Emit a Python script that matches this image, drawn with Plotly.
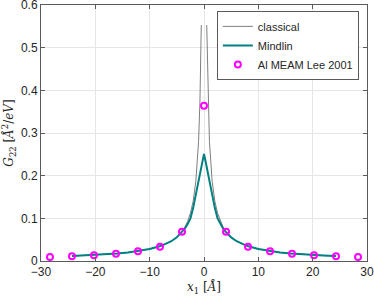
import plotly.graph_objects as go

# Classical Green's function (singular at 0)
x_cl = [-24.3, -22, -20, -18, -16, -14, -12, -10, -8, -7, -6, -5, -4, -3.5, -3, -2.5, -2, -1.5, -1, -0.75, -0.5,
        None,
        0.5, 0.75, 1, 1.5, 2, 2.5, 3, 3.5, 4, 5, 6, 7, 8, 10, 12, 14, 16, 18, 20, 22, 24.3]
g_cl = [0.0115, 0.0127, 0.0140, 0.0156, 0.0175, 0.0200, 0.0233, 0.0280, 0.0350, 0.0400, 0.0467, 0.0560, 0.0700,
        0.0800, 0.0933, 0.1120, 0.1400, 0.1870, 0.2800, 0.3730, 0.5530,
        None,
        0.5530, 0.3730, 0.2800, 0.1870, 0.1400, 0.1120, 0.0933, 0.0800, 0.0700, 0.0560, 0.0467, 0.0400, 0.0350,
        0.0280, 0.0233, 0.0200, 0.0175, 0.0156, 0.0140, 0.0127, 0.0115]

# Mindlin (gradient) Green's function
x_mi = [-24.3, -22, -20, -18, -16, -14, -12, -10, -8, -7, -6, -5, -4, -3.5, -3, -2.5, -2, -1.5, -1, -0.75, -0.5, -0.25,
        0,
        0.25, 0.5, 0.75, 1, 1.5, 2, 2.5, 3, 3.5, 4, 5, 6, 7, 8, 10, 12, 14, 16, 18, 20, 22, 24.3]
g_mi = [0.0115, 0.0127, 0.0140, 0.0156, 0.0175, 0.0200, 0.0233, 0.0280, 0.0350, 0.0399, 0.0464, 0.0554, 0.0681,
        0.0765, 0.0869, 0.1000, 0.1240, 0.1550, 0.1860, 0.2040, 0.2200, 0.2360,
        0.2510,
        0.2360, 0.2200, 0.2040, 0.1860, 0.1550, 0.1240, 0.1000, 0.0869, 0.0765, 0.0681, 0.0554, 0.0464, 0.0399,
        0.0350, 0.0280, 0.0233, 0.0200, 0.0175, 0.0156, 0.0140, 0.0127, 0.0115]

# Atomistic data (Al MEAM Lee 2001)
x_md = [-28.35, -24.3, -20.25, -16.2, -12.15, -8.1, -4.05, 0, 4.05, 8.1, 12.15, 16.2, 20.25, 24.3, 28.35]
g_md = [0.0094, 0.0110, 0.0135, 0.0168, 0.0227, 0.0335, 0.0686, 0.3640, 0.0686, 0.0335, 0.0227, 0.0168, 0.0135,
        0.0110, 0.0094]

x_ticks = [-30, -20, -10, 0, 10, 20, 30]
y_ticks = [0, 0.1, 0.2, 0.3, 0.4, 0.5, 0.6]
y_ticktext = ["0", "0.1", "0.2", "0.3", "0.4", "0.5", "0.6"]

fig = go.Figure()
fig.add_trace(go.Scatter(x=x_cl, y=g_cl, mode="lines", name="classical",
                         line=dict(color="#7f7f7f", width=1), connectgaps=False))
fig.add_trace(go.Scatter(x=x_mi, y=g_mi, mode="lines", name="Mindlin",
                         line=dict(color="#008080", width=2)))
fig.add_trace(go.Scatter(x=x_md, y=g_md, mode="markers", name="Al MEAM Lee 2001",
                         marker=dict(symbol="circle-open", color="#ff00ff", size=6,
                                     line=dict(width=2, color="#ff00ff"))))

axis_common = dict(showline=True, linecolor="#5a5a5a", linewidth=1, mirror="ticks",
                   ticks="inside", ticklen=4, tickcolor="#5a5a5a",
                   showgrid=True, gridcolor="#e6e6e6", gridwidth=1, zeroline=False,
                   ticklabeloverflow="allow",
                   tickfont=dict(family="Liberation Sans, Arial", size=12, color="#262626"))

fig.update_layout(
    autosize=False,
    width=374, height=296,
    margin=dict(l=41, r=7, t=5, b=35),
    paper_bgcolor="white", plot_bgcolor="white",
    xaxis=dict(range=[-30, 30], tickvals=x_ticks,
               title=dict(text="<i>x</i><sub>1</sub> [<i>Å</i>]", standoff=2,
                          font=dict(family="DejaVu Serif", size=12, color="#262626")),
               automargin=False, **axis_common),
    yaxis=dict(range=[0, 0.6], tickvals=y_ticks, ticktext=y_ticktext,
               title=dict(text="<i>G</i><sub>22</sub> [<i>Å</i><sup>2</sup>/<i>eV</i>]", standoff=4,
                          font=dict(family="DejaVu Serif", size=12, color="#262626")),
               automargin=False, **axis_common),
    legend=dict(x=0.975, y=0.977, xanchor="right", yanchor="top",
                bgcolor="white", bordercolor="#5a5a5a", borderwidth=1,
                font=dict(family="Liberation Sans, Arial", size=11, color="#262626"),
                tracegroupgap=0, itemwidth=30),
    showlegend=True,
)

fig.write_html("out.html", default_width="374px", default_height="296px",
               config={"displayModeBar": False},
               post_script="document.body.style.margin='0';document.body.style.padding='0';")
